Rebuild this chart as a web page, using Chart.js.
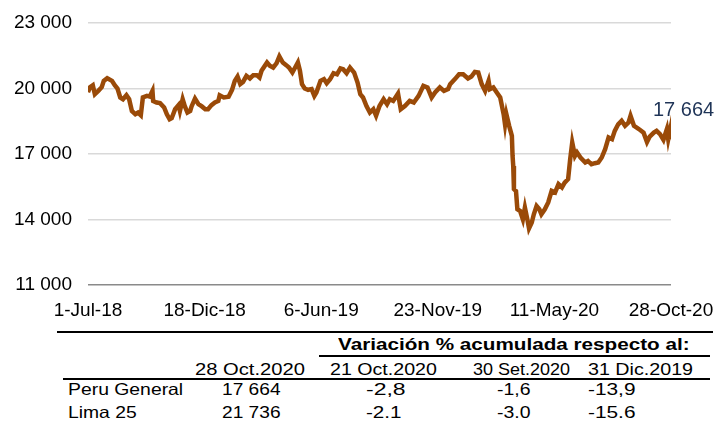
<!DOCTYPE html>
<html lang="es">
<head>
  <meta charset="UTF-8">
  <title>Índice General BVL</title>
  <style>
    body { margin: 0; background: #fff; font-family: "Liberation Sans", Arial, sans-serif; }
    #wrap { position: relative; width: 717px; height: 423px; overflow: hidden; }
    .chart-container { position: absolute; left: 0; top: 0; width: 717px; height: 325px; }
    .t { position: absolute; font-size: 16.5px; line-height: 20px; color: #000; white-space: nowrap; transform-origin: left center; }
    .rule { position: absolute; background: #000; height: 2px; }
  </style>
</head>
<body>
<div id="wrap">
  <div class="chart-container">
    <canvas id="bvlChart"></canvas>
  </div>
</div>

<script src="https://cdn.jsdelivr.net/npm/chart.js"></script>
<script>
  // days counted from 1-Jul-18
  const days = [
    0, 3, 7, 10, 15, 20, 23, 28, 35, 39,
    43, 47, 51, 56, 60, 64, 69, 73, 77, 80,
    86, 90, 94, 95, 100, 105, 111, 115, 119, 122,
    127, 132, 134, 138, 141, 145, 149, 151, 156, 161,
    166, 171, 175, 180, 185, 190, 192, 198, 205, 210,
    214, 218, 222, 226, 231, 236, 241, 246, 250, 253,
    261, 265, 270, 275, 279, 284, 289, 293, 298, 302,
    306, 309, 312, 316, 321, 326, 330, 333, 339, 344,
    348, 353, 358, 363, 368, 372, 377, 382, 388, 393,
    397, 401, 406, 411, 416, 420, 425, 431, 436, 440,
    445, 452, 456, 462, 469, 475, 482, 489, 495, 501,
    506, 513, 519, 525, 528, 535, 541, 547, 554, 559,
    564, 569, 574, 579, 584, 586, 591, 596, 601, 606,
    608, 610, 614, 618, 619, 620, 621, 624, 626, 630,
    634, 637, 641, 643, 647, 650, 654, 658, 661, 666,
    671, 676, 681, 686, 691, 695, 700, 703, 706, 710,
    713, 718, 725, 729, 734, 739, 744, 749, 754, 759,
    764, 768, 773, 778, 783, 788, 791, 796, 800, 805,
    810, 815, 819, 825, 829, 834, 839, 844, 846, 849,
    850
  ];

  const peruGeneral = [
    19830, 20060, 20150, 19740, 19890, 20060, 20350, 20470, 20350, 20150,
    20000, 19590, 19510, 19690, 19510, 18970, 18820, 18900, 18780, 19590,
    19660, 19630, 19890, 19430, 19360, 19330, 19130, 18820, 18590, 18640,
    19050, 19240, 18970, 19510, 19200, 18900, 18970, 19180, 19540, 19280,
    19180, 19050, 19050, 19240, 19360, 19430, 19690, 19590, 19620, 19940,
    20350, 20550, 20200, 20300, 20580, 20460, 20610, 20610, 20500, 20810,
    21190, 21040, 20960, 21160, 21470, 21190, 21070, 20960, 20730, 20960,
    21190, 20810, 20200, 20000, 19940, 19970, 19660, 19820, 20350, 20430,
    20240, 20430, 20700, 20650, 20920, 20880, 20700, 20960, 20730, 20270,
    19740, 19590, 19200, 18900, 19050, 18750, 19200, 19510, 19280, 19510,
    19430, 19770, 19050, 19200, 19430, 19360, 19660, 20120, 20050, 19590,
    19820, 20050, 19890, 19970, 20200, 20430, 20650, 20650, 20460, 20550,
    20760, 20730, 20200, 19890, 20350, 19970, 20050, 19820, 19590, 18820,
    18360, 18820, 18290, 17830, 16910, 16450, 15390, 15300, 14470, 14390,
    14010, 14550, 13940, 13590, 13860, 14240, 14620, 14470, 14240, 14470,
    14780, 15310, 15240, 15620, 15470, 15690, 15850, 16760, 17530, 16910,
    17070, 16840, 16610, 16680, 16530, 16580, 16610, 16840, 17220, 17760,
    17680, 18060, 18360, 18520, 18290, 18440, 18750, 18290, 18210, 18100,
    17980, 17550, 17800, 17980, 18060, 17910, 17650, 18140, 17680, 18140,
    17664
  ];

  const xTickLabels = ['1-Jul-18', '18-Dic-18', '6-Jun-19', '23-Nov-19', '11-May-20', '28-Oct-20'];
  const lastLabel = '17 664';

  // table under the chart
  const tableHeader = 'Variación % acumulada respecto al:';
  const tableDates = ['28 Oct.2020', '21 Oct.2020', '30 Set.2020', '31 Dic.2019'];
  const rowNames = ['Peru General', 'Lima 25'];
  const rowLevels = ['17 664', '21 736'];
  const rowVarWeek = ['-2,8', '-2.1'];
  const rowVarMonth = ['-1,6', '-3.0'];
  const rowVarYear = ['-13,9', '-15.6'];

  const fmt = v => String(v).replace(/\B(?=(\d{3})+(?!\d))/g, ' ');
  const font = '"Liberation Sans", Arial, sans-serif';

  const endLabel = {
    id: 'endLabel',
    afterDatasetsDraw(chart) {
      const pts = chart.getDatasetMeta(0).data;
      const p = pts[pts.length - 1];
      const c = chart.ctx;
      c.save();
      c.font = '20px ' + font;
      c.fillStyle = '#1f3457';
      c.textAlign = 'left';
      c.textBaseline = 'middle';
      c.fillText(lastLabel, p.x - 18, p.y - 29);
      c.restore();
    }
  };

  const ctx = document.getElementById('bvlChart').getContext('2d');
  new Chart(ctx, {
    type: 'line',
    data: {
      datasets: [{
        label: 'Peru General',
        data: days.map((d, i) => ({ x: d, y: peruGeneral[i] })),
        borderColor: '#9a4a08',
        borderWidth: 4.5,
        pointRadius: 0,
        tension: 0,
        fill: false
      }]
    },
    options: {
      responsive: true,
      maintainAspectRatio: false,
      animation: false,
      layout: { padding: { top: 23, right: 46, left: 0, bottom: 0 } },
      plugins: { legend: { display: false }, tooltip: { enabled: false } },
      scales: {
        x: {
          type: 'linear',
          min: 0,
          max: 850,
          afterBuildTicks: s => { s.ticks = xTickLabels.map((_, i) => ({ value: i * 170 })); },
          afterFit: s => { s.height = 40; s.paddingLeft = 0; s.paddingRight = 0; },
          grid: { display: false, drawTicks: false },
          border: { display: false },
          ticks: {
            padding: 14,
            maxRotation: 0,
            autoSkip: false,
            color: '#000',
            font: { family: font, size: 19 },
            callback: v => xTickLabels[Math.round(v / 170)]
          }
        },
        y: {
          min: 11000,
          max: 23000,
          afterFit: s => { s.width = 88; s.paddingTop = 0; s.paddingBottom = 0; },
          grid: {
            drawTicks: false,
            lineWidth: 1.5,
            color: c => c.tick && c.tick.value === 11000 ? '#8a8a8a' : '#d9d9d9'
          },
          border: { display: false },
          ticks: {
            stepSize: 3000,
            padding: 16,
            color: '#000',
            font: { family: font, size: 19 },
            callback: v => fmt(v)
          }
        }
      }
    },
    plugins: [endLabel]
  });

  // table drawn as positioned text, stretched to the widths of the original
  const wrap = document.getElementById('wrap');
  function put(text, left, cy, width, bold) {
    const s = document.createElement('span');
    s.className = 't';
    s.textContent = text;
    s.style.left = left + 'px';
    s.style.top = (cy - 10) + 'px';
    if (bold) s.style.fontWeight = 'bold';
    wrap.appendChild(s);
    s.style.transform = 'scaleX(' + (width / s.offsetWidth) + ')';
  }
  function rule(left, top, width) {
    const d = document.createElement('div');
    d.className = 'rule';
    d.style.left = left + 'px';
    d.style.top = top + 'px';
    d.style.width = width + 'px';
    wrap.appendChild(d);
  }

  rule(57, 331, 656);
  rule(319, 355, 391);
  rule(63, 378, 647);

  put(tableHeader, 338, 344, 352, true);
  const dateLeft = [195, 330, 473, 588];
  const dateWidth = [110, 107, 97, 105];
  tableDates.forEach((d, i) => put(d, dateLeft[i], 369, dateWidth[i]));

  const rowY = [389, 412];
  const nameWidth = [115, 69];
  rowNames.forEach((n, i) => {
    put(n, 68, rowY[i], nameWidth[i]);
    put(rowLevels[i], 222, rowY[i], 58);
    put(rowVarWeek[i], 366, rowY[i], i ? 35 : 39);
    put(rowVarMonth[i], 497, rowY[i], 33);
    put(rowVarYear[i], 588, rowY[i], 48);
  });
</script>
</body>
</html>
